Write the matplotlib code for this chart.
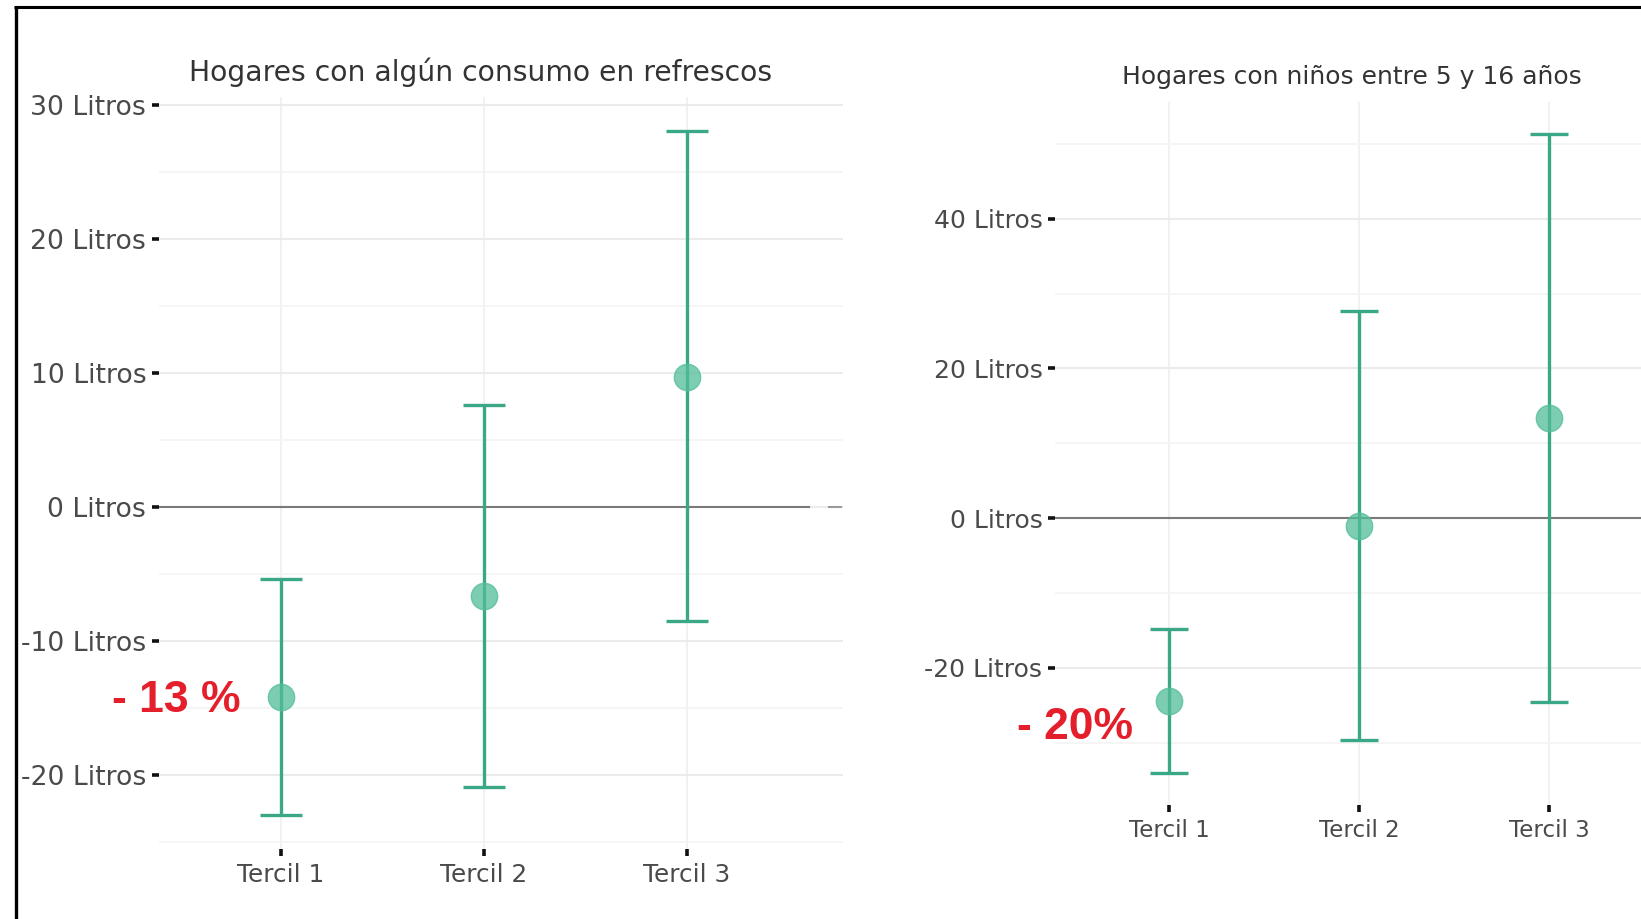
import matplotlib
matplotlib.use("Agg")
import matplotlib.pyplot as plt
from matplotlib.lines import Line2D
import numpy as np

# Data: change in litres by income tercile (point estimate and 95% interval)
categories = ["Tercil 1", "Tercil 2", "Tercil 3"]

left_title = "Hogares con algún consumo en refrescos"
left_est = [-14.2, -6.7, 9.7]
left_low = [-23.0, -20.9, -8.5]
left_high = [-5.4, 7.6, 28.0]
left_ticks = [-20, -10, 0, 10, 20, 30]
left_note = "- 13 %"

right_title = "Hogares con niños entre 5 y 16 años"
right_est = [-24.5, -1.0, 13.4]
right_low = [-34.1, -29.7, -24.6]
right_high = [-14.8, 27.7, 51.3]
right_ticks = [-20, 0, 20, 40]
right_note = "- 20%"

TEXT = "#4a4a4a"
LINE = "#3aa886"
DOT = "#52bd99"
NOTE = "#e41e2b"

W, H = 1641, 919
fig = plt.figure(figsize=(W / 100, H / 100), dpi=100)
fig.patch.set_facecolor("white")


def px_axes(x0, y0, x1, y1):
    """Axes from pixel box (left, top, right, bottom) measured from the top-left."""
    return fig.add_axes([x0 / W, 1 - y1 / H, (x1 - x0) / W, (y1 - y0) / H])


def style(ax, ticks, minor, tick_size, xlab_size):
    ax.set_facecolor("white")
    for s in ax.spines.values():
        s.set_visible(False)
    ax.set_yticks(ticks)
    ax.set_yticklabels([f"{t} Litros" for t in ticks])
    ax.set_yticks(minor, minor=True)
    ax.set_xticks(range(1, len(categories) + 1))
    ax.set_xticklabels(categories)
    ax.grid(True, which="major", axis="y", color="#ebebeb", lw=1.5, zorder=0)
    ax.grid(True, which="minor", axis="y", color="#f4f4f4", lw=1.2, zorder=0)
    ax.grid(True, which="major", axis="x", color="#efefef", lw=1.2, zorder=0)
    ax.tick_params(axis="y", which="major", length=5, width=2.6, color="#111111",
                   pad=4, labelsize=tick_size, labelcolor=TEXT)
    ax.tick_params(axis="y", which="minor", length=0)
    ax.tick_params(axis="x", length=5, width=2.6, color="#111111", pad=5,
                   labelsize=xlab_size, labelcolor=TEXT)
    ax.set_axisbelow(True)


def draw(ax, est, low, high, capsize):
    x = np.arange(1, len(est) + 1)
    est = np.asarray(est)
    yerr = [est - np.asarray(low), np.asarray(high) - est]
    ax.errorbar(x, est, yerr=yerr, fmt="none", ecolor=LINE, elinewidth=2.4,
                capsize=capsize, capthick=2.4, zorder=3)
    ax.plot(x, est, "o", ms=19, color=DOT, alpha=0.75, mec=DOT, mew=1, zorder=4)


# Left panel
axl = px_axes(158.7, 97.3, 842.5, 849.0)
axl.set_xlim(0.4, 3.766)
axl.set_ylim(-25.55, 30.55)
style(axl, left_ticks, [-25, -15, -5, 5, 15, 25], 19.2, 17.8)
axl.plot([0.4, 3.6], [0, 0], color="#7a7a7a", lw=1.5, zorder=2)
axl.plot([3.70, 3.76], [0, 0], color="#9a9a9a", lw=1.5, zorder=2)
draw(axl, left_est, left_low, left_high, 15)
axl.text(0.805, -14.5, left_note, ha="right", va="center", color=NOTE,
         fontsize=32, fontweight="bold", family="Liberation Sans")
fig.text(481 / W, 1 - 72 / H, left_title, ha="center", va="center",
         fontsize=20.3, color="#333333")

# Right panel
axr = px_axes(1055, 102, 1663, 805.4)
axr.set_xlim(0.4, 3.6)
axr.set_ylim(-38.4, 55.6)
style(axr, right_ticks, [-30, -10, 10, 30, 50], 18, 16.6)
axr.axhline(0, color="#7a7a7a", lw=1.5, zorder=2)
draw(axr, right_est, right_low, right_high, 14)
axr.text(0.813, -28.0, right_note, ha="right", va="center", color=NOTE,
         fontsize=32, fontweight="bold", family="Liberation Sans")
fig.text(1352 / W, 1 - 77 / H, right_title, ha="center", va="center",
         fontsize=18, color="#333333")

# Frame on the left and top edges
fig.add_artist(Line2D([15.5 / W, 15.5 / W], [0, 1 - 6 / H], transform=fig.transFigure,
                      color="black", lw=2.4, solid_capstyle="butt"))
fig.add_artist(Line2D([14 / W, 1], [1 - 7 / H, 1 - 7 / H], transform=fig.transFigure,
                      color="black", lw=2.2, solid_capstyle="butt"))

fig.savefig("out.png", dpi=100, facecolor="white")
